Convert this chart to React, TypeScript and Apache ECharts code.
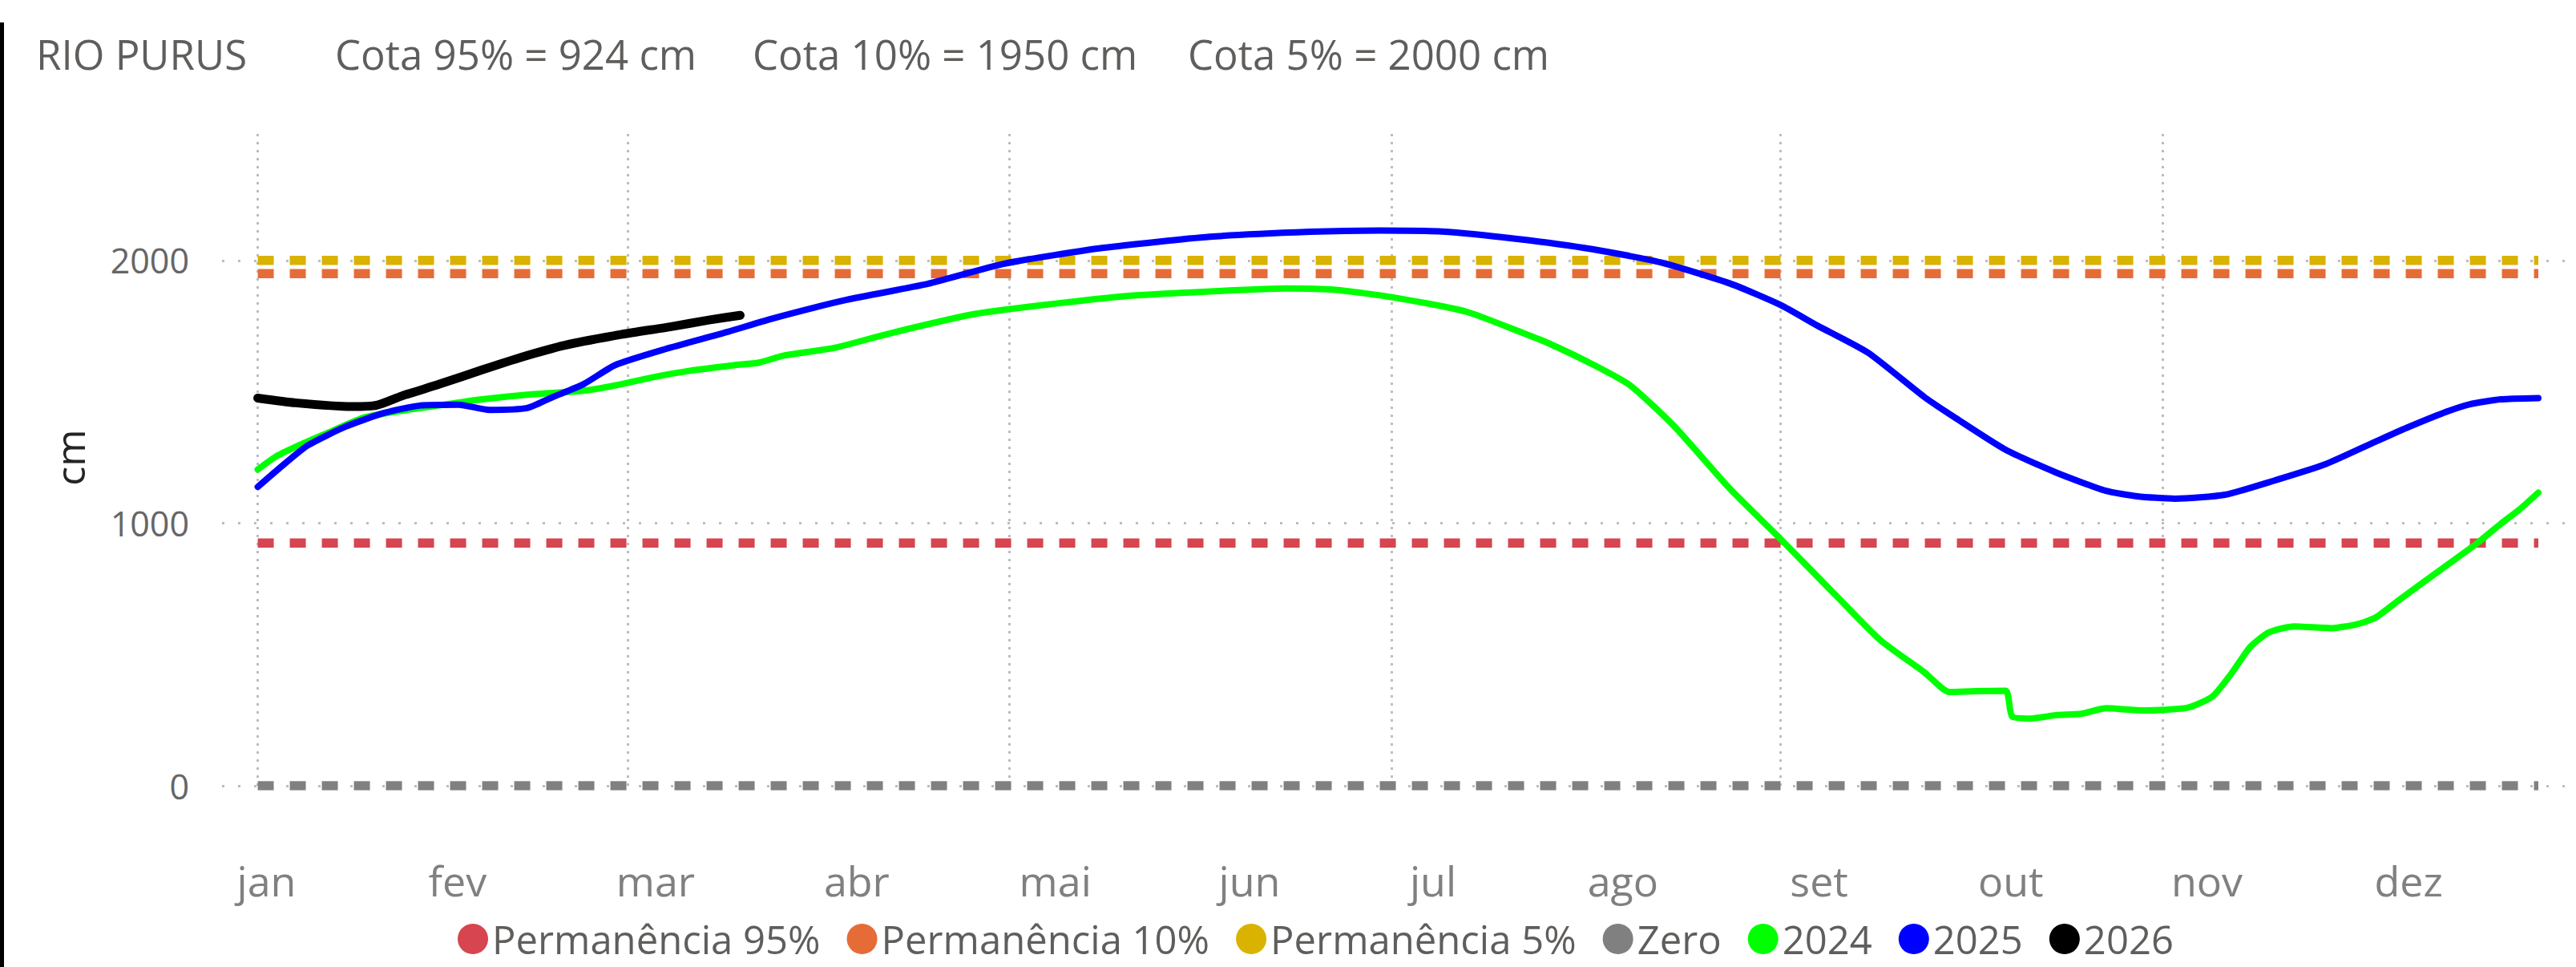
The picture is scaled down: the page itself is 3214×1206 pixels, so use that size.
import React, { useEffect, useRef } from "react";
import * as echarts from "echarts";

// ---------- data ----------
const monthLabels = ["jan", "fev", "mar", "abr", "mai", "jun", "jul", "ago", "set", "out", "nov", "dez"];
// day-of-year where each month label sits
const monthLabelDays = [1.4, 31.9, 63.5, 95.6, 127.3, 158.3, 187.6, 217.9, 249.2, 279.8, 311.1, 343.3];
// vertical grid lines (1 jan, 1 mar, 1 mai, 1 jul, 1 set, 1 nov)
const gridMonthDays = [0, 59, 120, 181, 243, 304];

const yTicks = { min: 0, max: 2500, interval: 1000 };

const thresholdNames = ["Zero", "Permanência 95%", "Permanência 10%", "Permanência 5%"];
const thresholdValues = [0, 924, 1950, 2000];
const lineStartDay = 0;
const lineEndDay = 364;

const days2024 = [0, 3, 7, 12, 17, 23, 29, 35, 43, 52, 57, 63, 69, 76, 80, 84, 92, 101, 114, 125, 139, 152, 164, 172, 181, 193, 202, 206, 213, 219, 226, 235, 243, 252, 259, 266, 270, 274, 279, 280, 283, 287, 291, 295, 301, 308, 312, 315, 318, 321, 325, 331, 335, 338, 342, 349, 354, 358, 361, 364];
const vals2024 = [1204, 1255, 1301, 1352, 1402, 1428, 1448, 1469, 1489, 1504, 1524, 1555, 1580, 1601, 1611, 1638, 1667, 1723, 1794, 1829, 1865, 1882, 1893, 1888, 1860, 1804, 1723, 1685, 1605, 1525, 1371, 1130, 941, 722, 554, 432, 357, 360, 362, 264, 256, 269, 274, 295, 287, 297, 340, 427, 528, 584, 607, 600, 615, 640, 711, 833, 919, 997, 1052, 1116];

const days2025 = [0, 4, 8, 14, 20, 26, 32, 37, 43, 47, 52, 57, 65, 75, 82, 94, 107, 119, 135, 152, 168, 179, 189, 201, 213, 224, 235, 243, 249, 257, 266, 271, 279, 287, 295, 300, 306, 314, 322, 330, 338, 343, 349, 353, 358, 364];
const vals2025 = [1138, 1220, 1296, 1367, 1418, 1448, 1451, 1431, 1438, 1479, 1529, 1601, 1662, 1728, 1778, 1850, 1911, 1987, 2048, 2090, 2109, 2114, 2110, 2082, 2043, 1992, 1912, 1831, 1751, 1649, 1480, 1400, 1279, 1193, 1123, 1102, 1093, 1108, 1163, 1224, 1310, 1363, 1421, 1452, 1471, 1476];

const days2026 = [0, 6, 15, 19, 23, 29, 36, 42, 49, 58, 66, 72, 77];
const vals2026 = [1476, 1458, 1444, 1449, 1484, 1529, 1585, 1631, 1677, 1718, 1748, 1773, 1791];

const titleParts = ["RIO PURUS", "Cota 95% = 924 cm", "Cota 10% = 1950 cm", "Cota 5% = 2000 cm"];
const legendOrder = ["Permanência 95%", "Permanência 10%", "Permanência 5%", "Zero", "2024", "2025", "2026"];

// ---------- styles ----------
const FONT = "'Open Sans', 'Noto Sans', sans-serif";
const colors: Record<string, string> = {
  "Zero": "#808080",
  "Permanência 95%": "#D64550",
  "Permanência 10%": "#E66C37",
  "Permanência 5%": "#D9B300",
  "2024": "#00FF00",
  "2025": "#0000FF",
  "2026": "#000000",
};
const lineWidths: Record<string, number> = { "2024": 8, "2025": 8, "2026": 11 };
const titleLefts = [45, 418, 939, 1482];
const GRID_COLOR = "#BDBDBD";

function pairs(d: number[], v: number[]) {
  return d.map((x, i) => [x, v[i]]);
}

export default function App() {
  const ref = useRef<HTMLDivElement>(null);
  useEffect(() => {
    if (!ref.current) return;
    const chart = echarts.init(ref.current, null, { renderer: "svg" });

    const thresholdSeries = thresholdNames.map((name, i) => ({
      name,
      type: "line",
      data: [[lineStartDay, thresholdValues[i]], [lineEndDay, thresholdValues[i]]],
      symbol: "none",
      showSymbol: false,
      silent: true,
      itemStyle: { color: colors[name] },
      lineStyle: { color: colors[name], width: 11.5, type: [20, 20], cap: "butt" },
      z: 2,
      ...(i === 0
        ? {
            markLine: {
              silent: true,
              symbol: ["none", "none"],
              label: { show: false },
              emphasis: { disabled: true },
              lineStyle: { color: GRID_COLOR, width: 3, type: [3, 7] },
              data: gridMonthDays.map((d) => ({ xAxis: d })),
              z: 1,
            },
          }
        : {}),
    }));

    const yearSeries = [
      { name: "2024", data: pairs(days2024, vals2024) },
      { name: "2025", data: pairs(days2025, vals2025) },
      { name: "2026", data: pairs(days2026, vals2026) },
    ].map((s) => ({
      name: s.name,
      type: "line",
      data: s.data,
      symbol: "none",
      showSymbol: false,
      smooth: 0.2,
      itemStyle: { color: colors[s.name] },
      lineStyle: { color: colors[s.name], width: lineWidths[s.name], cap: "round", join: "round" },
      z: 3,
    }));

    const option: any = {
      animation: false,
      backgroundColor: "#ffffff",
      textStyle: { fontFamily: FONT },
      title: titleParts.map((t, i) => ({
        text: t,
        left: titleLefts[i],
        top: 37,
        padding: 0,
        textStyle: { fontFamily: FONT, fontSize: 51, fontWeight: "normal", color: "#605E5C", lineHeight: 60 },
      })),
      legend: {
        data: legendOrder,
        left: 571,
        top: 1138,
        icon: "circle",
        itemWidth: 38,
        itemHeight: 38,
        itemGap: 33,
        padding: 0,
        textStyle: { fontFamily: FONT, fontSize: 49, color: "#605E5C", lineHeight: 66 },
      },
      graphic: [
        { type: "rect", shape: { x: 0, y: 28, width: 5, height: 1178 }, style: { fill: "#000000" }, silent: true },
      ],
      grid: { left: 277, right: 4, top: 161, bottom: 226, containLabel: false, outerBoundsMode: "none" },
      xAxis: {
        type: "value",
        min: -5.7,
        max: 369.5,
        axisLine: { show: false },
        axisTick: { show: false },
        splitLine: { show: false },
        axisLabel: {
          customValues: monthLabelDays,
          formatter: (v: number) => {
            const idx = monthLabelDays.findIndex((d) => Math.abs(d - v) < 0.01);
            return idx >= 0 ? monthLabels[idx] : "";
          },
          margin: 87,
          fontFamily: FONT,
          fontSize: 52,
          color: "#808080",
          lineHeight: 60,
        },
      },
      yAxis: {
        type: "value",
        min: yTicks.min,
        max: yTicks.max,
        interval: yTicks.interval,
        name: "cm",
        nameLocation: "middle",
        nameGap: 165,
        nameTextStyle: { fontFamily: FONT, fontSize: 50, color: "#252423" },
        axisLine: { show: false },
        axisTick: { show: false },
        axisLabel: {
          fontFamily: FONT,
          fontSize: 43,
          color: "#666666",
          margin: 41,
          showMaxLabel: false,
          formatter: (v: number) => String(v),
        },
        splitLine: { show: true, showMaxLine: false, lineStyle: { color: GRID_COLOR, width: 3, type: [3, 17] } },
      },
      series: [...thresholdSeries, ...yearSeries],
    };
    chart.setOption(option);
    return () => chart.dispose();
  }, []);
  return <div ref={ref} style={{ position: "absolute", left: 0, top: 0, width: 3214, height: 1206 }} />;
}
